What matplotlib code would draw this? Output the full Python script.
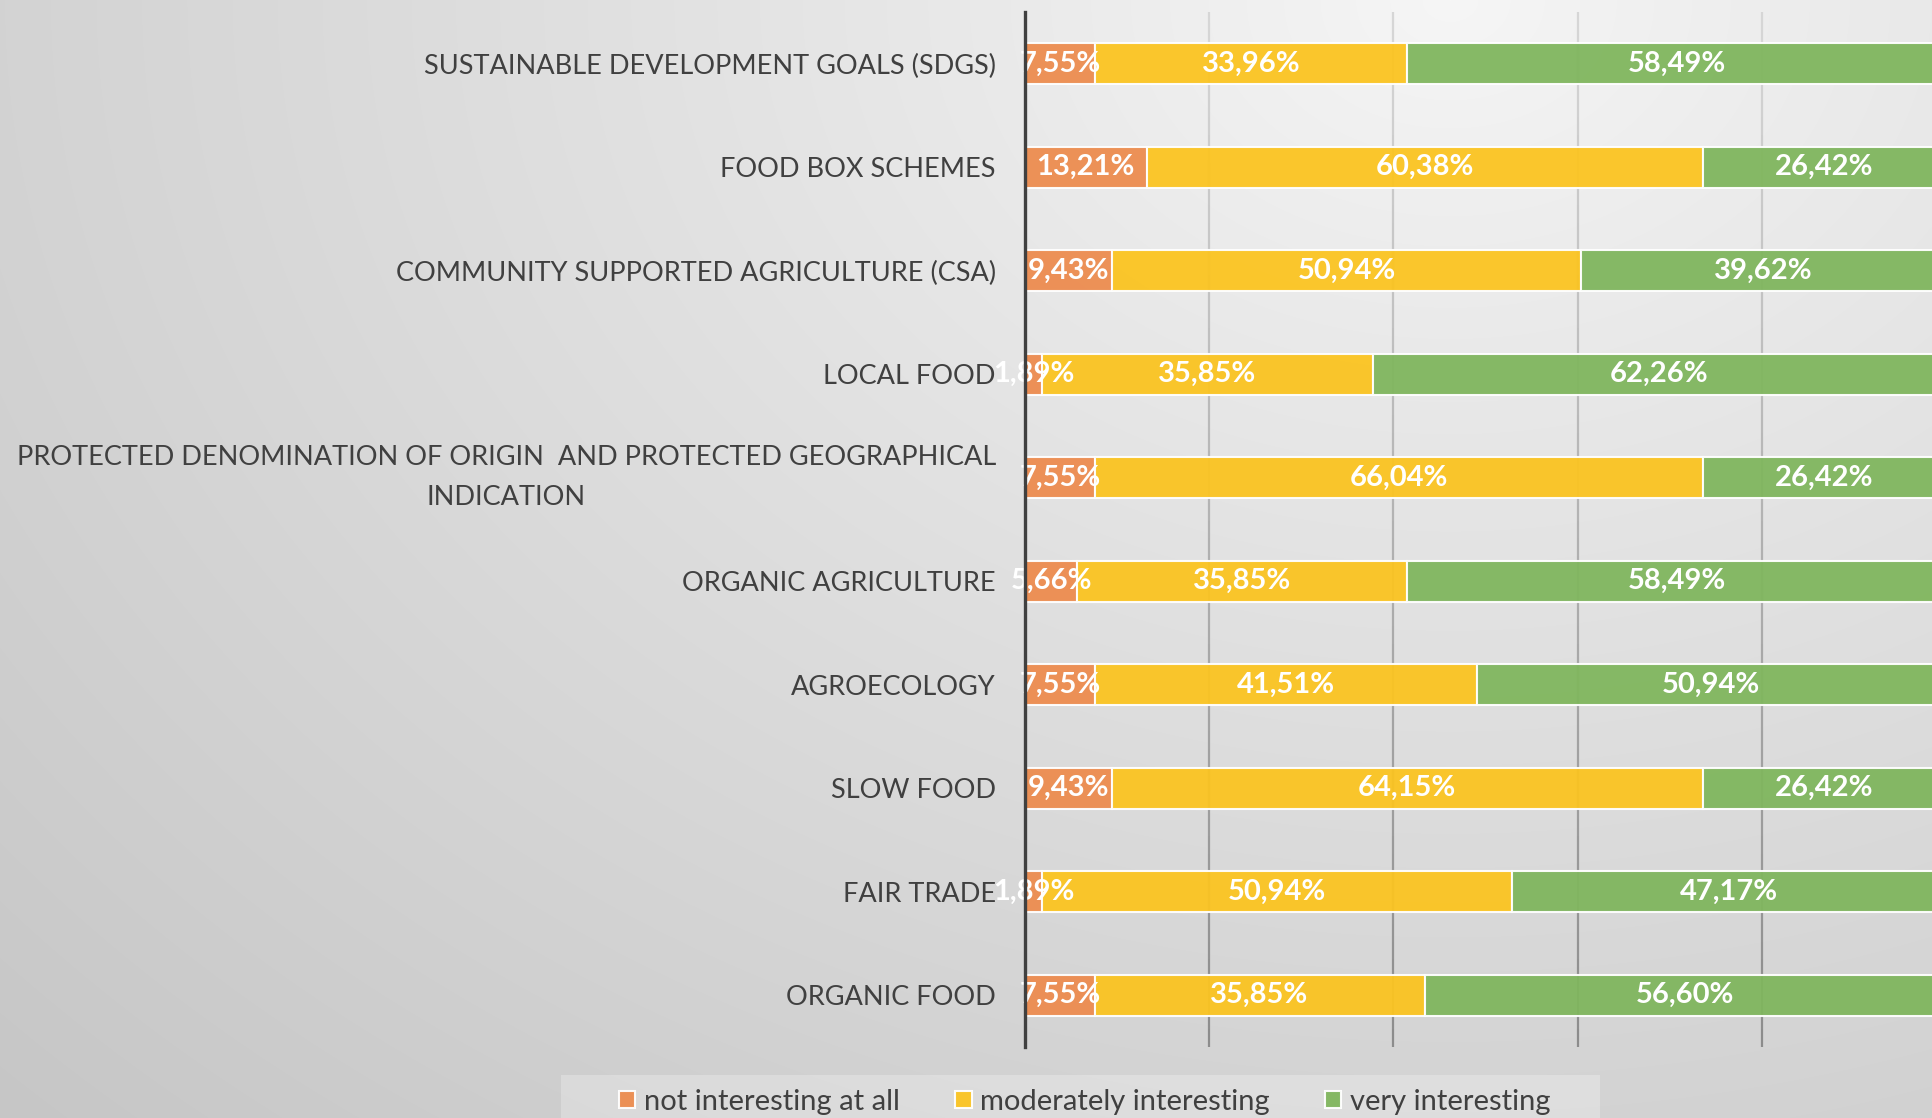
import numpy as np
import matplotlib
matplotlib.use("Agg")
import matplotlib.pyplot as plt
from matplotlib.collections import LineCollection
from matplotlib.patches import Rectangle

plt.rcParams['font.family'] = ['Lato', 'DejaVu Sans']

# data, top to bottom as in the chart
categories = [
    "SUSTAINABLE DEVELOPMENT GOALS (SDGS)",
    "FOOD BOX SCHEMES",
    "COMMUNITY SUPPORTED AGRICULTURE (CSA)",
    "LOCAL FOOD",
    "PROTECTED DENOMINATION OF ORIGIN  AND PROTECTED GEOGRAPHICAL\nINDICATION",
    "ORGANIC AGRICULTURE",
    "AGROECOLOGY",
    "SLOW FOOD",
    "FAIR TRADE",
    "ORGANIC FOOD",
]
not_interesting = [7.55, 13.21, 9.43, 1.89, 7.55, 5.66, 7.55, 9.43, 1.89, 7.55]
moderately = [33.96, 60.38, 50.94, 35.85, 66.04, 35.85, 41.51, 64.15, 50.94, 35.85]
very = [58.49, 26.42, 39.62, 62.26, 26.42, 58.49, 50.94, 26.42, 47.17, 56.60]

series_names = ["not interesting at all", "moderately interesting", "very interesting"]
colors = ["#ED8C4F", "#FBC421", "#80B65E"]

W, H = 1933, 1118
fig = plt.figure(figsize=(W / 100, H / 100), dpi=100)

# background gradient (light spot near top right)
bg = fig.add_axes([0, 0, 1, 1], zorder=-10)
yy, xx = np.mgrid[0:H, 0:W]
d = np.sqrt((xx - 1450.0) ** 2 + (1.3 * yy) ** 2) / 2053.0
v = (246 - 48 * np.clip(d, 0, 1.2) ** 0.9) / 255.0
bg.imshow(np.dstack([v, v, v]), aspect='auto', extent=[0, 1, 0, 1])
bg.axis('off')

ax = fig.add_axes([1025 / W, 1 - 1047 / H, (W - 1025) / W, 1035 / H])
ax.patch.set_alpha(0)

y = np.arange(len(categories))
data = [np.array(not_interesting), np.array(moderately), np.array(very)]
left = np.zeros(len(categories))
for vals, name, c in zip(data, series_names, colors):
    ax.barh(y, vals, left=left, height=0.4, color=c, alpha=0.95,
            edgecolor=(1, 1, 1, 0.45), linewidth=1.5, label=name, zorder=2)
    for yi, l, w in zip(y, left, vals):
        ax.text(l + w / 2, yi, f"{w:.2f}%".replace(".", ","), ha='center', va='center',
                color='white', fontsize=21, fontweight='bold', zorder=3)
    left = left + vals

ax.set_xlim(0, 98.6)
ax.set_ylim(len(categories) - 0.5, -0.5)
ax.set_xticks([0, 20, 40, 60, 80])

# gridlines, lighter toward the top
for gx in [20, 40, 60, 80]:
    ys = np.linspace(-0.5, len(categories) - 0.5, 60)
    segs = [[(gx, ys[i]), (gx, ys[i + 1])] for i in range(len(ys) - 1)]
    shade = np.linspace(0.84, 0.55, len(segs))
    lc = LineCollection(segs, colors=[(s, s, s) for s in shade], linewidths=1.6, zorder=1)
    ax.add_collection(lc)

# category labels; the two-line one is drawn separately (centred lines)
ax.set_yticks(y)
ax.set_yticklabels(["" if "\n" in c else c for c in categories], fontsize=19.5, color='#404040')
lab_tr = ax.get_yaxis_text1_transform(21)[0]
for yi, c in zip(y, categories):
    if "\n" in c:
        ax.text(0, yi, c, transform=lab_tr, ha='right', va='center',
                multialignment='center', linespacing=1.75,
                fontsize=19.5, color='#404040')
ax.tick_params(axis='y', length=0, pad=21)
ax.tick_params(axis='x', length=0, labelbottom=False)
for s in ['top', 'right', 'bottom']:
    ax.spines[s].set_visible(False)
ax.spines['left'].set_color('#404040')
ax.spines['left'].set_linewidth(2.4)
ax.spines['left'].set_zorder(5)

# legend box
fig.patches.append(Rectangle((561 / W, 0), (1600 - 561) / W, (H - 1075) / H,
                             transform=fig.transFigure, facecolor='white', alpha=0.25,
                             edgecolor='none', zorder=0))
fig.legend(loc='center', bbox_to_anchor=(1085 / W, 1 - 1102 / H), ncol=3, frameon=False,
           fontsize=21, handlelength=0.55, handleheight=0.55, handletextpad=0.3,
           columnspacing=1.9, labelcolor='#404040')

fig.savefig("out.png", dpi=100)
